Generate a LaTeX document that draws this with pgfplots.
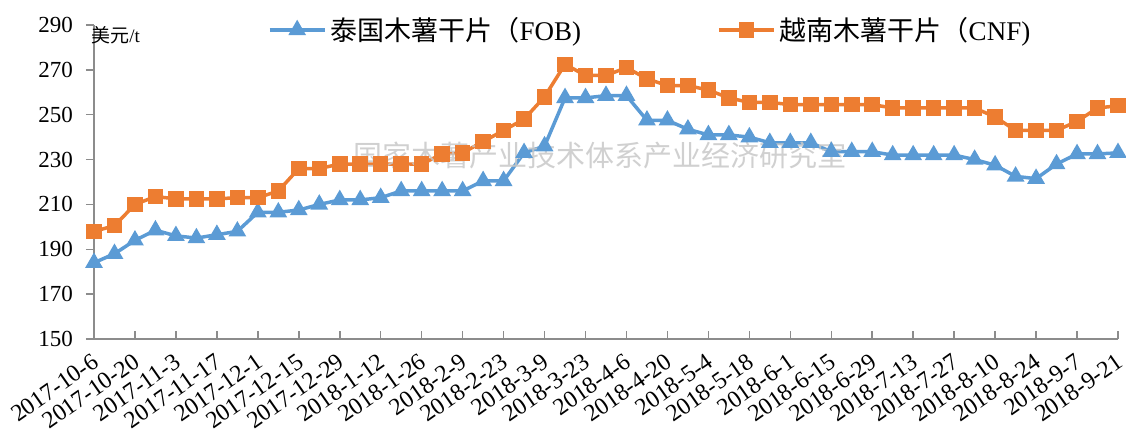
\documentclass[border=0pt]{standalone}
\usepackage{fontspec}
\setmainfont{Liberation Serif}
\newfontfamily\cjk{Noto Sans CJK SC}
\usepackage{pgfplots}
\pgfplotsset{compat=1.18}
\definecolor{sblue}{HTML}{5B9BD5}
\definecolor{sorange}{HTML}{ED7D31}
\definecolor{axgray}{HTML}{8C8C8C}
\definecolor{wm}{RGB}{200,200,200}

\pgfplotstableread{
i thai viet
0 184 198
1 188 200.5
2 194 210
3 198.5 213.5
4 196 212.5
5 195 212.5
6 196.5 212.5
7 198 213
8 206.5 213
9 206.5 216
10 207.5 226
11 210 226
12 212 228
13 212 228
14 213 228
15 216 228
16 216 228
17 216 232.5
18 216 233
19 220.5 238
20 220.5 243
21 233 248
22 236 258
23 257.5 272.5
24 257.5 267.5
25 258.5 267.5
26 258.5 271
27 247.5 266
28 247.5 263
29 243.5 263
30 241 261
31 241 257.5
32 240 255.5
33 237.5 255.5
34 237.5 254.5
35 237.5 254.5
36 233.5 254.5
37 233.5 254.5
38 233.5 254.5
39 232 253
40 232 253
41 232 253
42 232 253
43 230 253
44 227.5 249
45 222.5 243
46 221.5 243
47 228 243
48 232.5 247
49 232.5 253
50 233 254
}\datatable

\begin{document}
\begin{tikzpicture}
\path[use as bounding box] (-47pt,-47.5pt) rectangle (516pt,169.5pt);
\begin{axis}[
  scale only axis, width=512pt, height=157pt,
  xmin=0, xmax=50, ymin=150, ymax=290,
  clip=false,
  ytick={150,170,...,290},
  xtick={0,2,...,50},
  xticklabels={2017-10-6,2017-10-20,2017-11-3,2017-11-17,2017-12-1,2017-12-15,2017-12-29,2018-1-12,2018-1-26,2018-2-9,2018-2-23,2018-3-9,2018-3-23,2018-4-6,2018-4-20,2018-5-4,2018-5-18,2018-6-1,2018-6-15,2018-6-29,2018-7-13,2018-7-27,2018-8-10,2018-8-24,2018-9-7,2018-9-21},
  axis x line*=bottom, axis y line*=left,
  axis line style={axgray, line width=0.75pt, -},
  every outer x axis line/.append style={-},
  every outer y axis line/.append style={-},
  tick align=inside,
  tick style={axgray, line width=0.75pt},
  major tick length=4pt,
  ytick style={xshift=-4pt},
  /pgf/number format/assume math mode=true,
  yticklabel style={font=\fontsize{11.5}{13}\selectfont, xshift=-7pt},
  xticklabel style={font=\fontsize{12}{13}\selectfont, anchor=north east, inner sep=0pt, yshift=-6.5pt, xshift=-1.5pt, rotate=35},
  legend style={at={(0.544,0.984)}, anchor=center, draw=none, fill=none,
    font=\fontsize{13.5}{15}\selectfont,
    /tikz/every even column/.append style={column sep=66pt}},
  legend columns=2,
  legend image code/.code={\draw[mark repeat=2,mark phase=2,#1] plot coordinates {(0cm,0cm) (0.485cm,0cm) (0.97cm,0cm)};},
]
\addplot[sblue, line width=1.75pt, mark=triangle*, mark size=3.4pt, mark options={solid}] table[x=i, y=thai] {\datatable};
\addlegendentry{{\cjk 泰国木薯干片（}FOB)}
\addplot[sorange, line width=1.75pt, mark=square*, mark size=3pt, mark options={solid}] table[x=i, y=viet] {\datatable};
\addlegendentry{{\cjk 越南木薯干片（}CNF)}
\node[anchor=west, inner sep=0pt, font=\fontsize{9.5}{11}\selectfont] at (rel axis cs:-0.003,0.968) {{\cjk 美元}/t};
\node[text=wm, opacity=0.85, font=\cjk\fontsize{14.5}{16}\selectfont] at (rel axis cs:0.494,0.586) {国家木薯产业技术体系产业经济研究室};
\end{axis}
\end{tikzpicture}
\end{document}
